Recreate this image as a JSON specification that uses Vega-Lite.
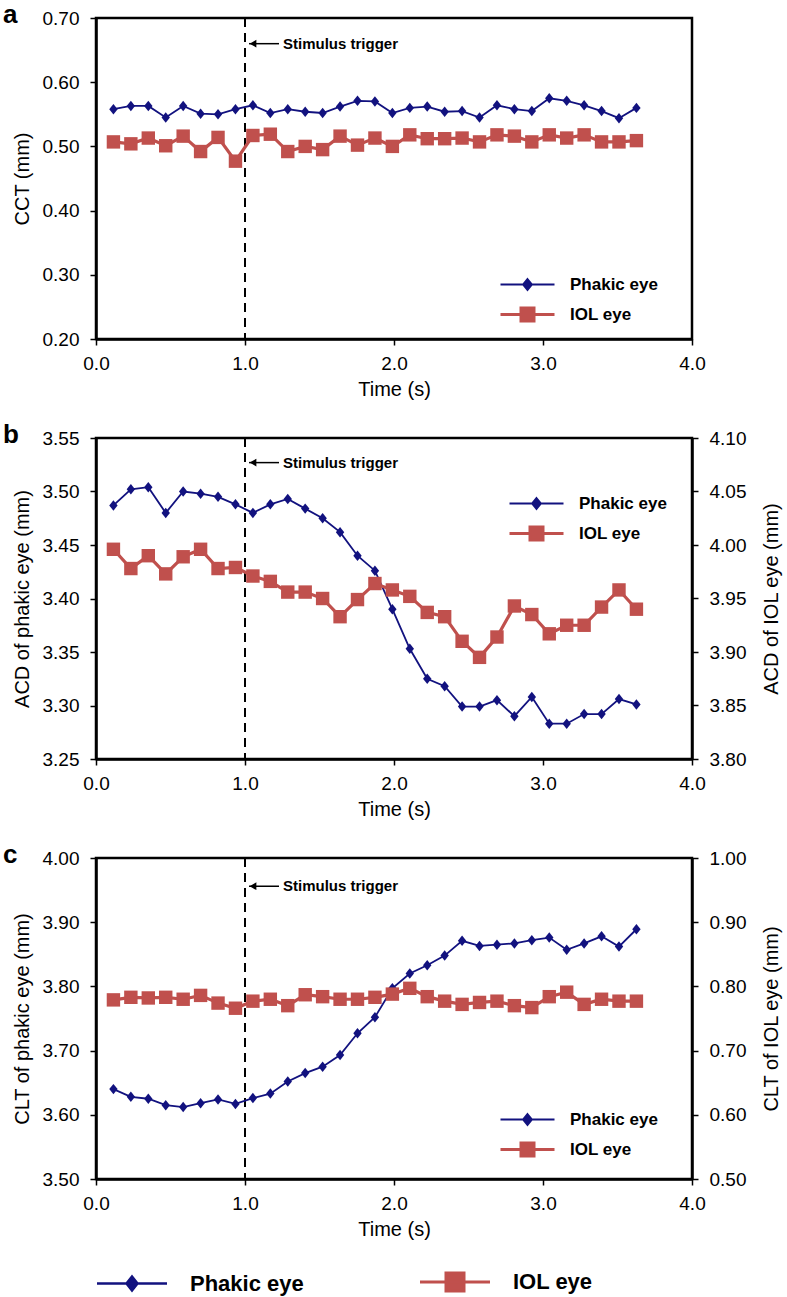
{
  "$schema": "https://vega.github.io/schema/vega-lite/v6.json",
  "background": "white",
  "padding": {"left": 1, "top": 0, "right": 0, "bottom": 0},
  "spacing": 19,
  "datasets": {
    "main": [
      {"panel":"a","eye":"Phakic eye","t":0.117,"v":0.558},{"panel":"a","eye":"Phakic eye","t":0.234,"v":0.563},{"panel":"a","eye":"Phakic eye","t":0.351,"v":0.563},{"panel":"a","eye":"Phakic eye","t":0.468,"v":0.545},{"panel":"a","eye":"Phakic eye","t":0.585,"v":0.563},{"panel":"a","eye":"Phakic eye","t":0.702,"v":0.551},{"panel":"a","eye":"Phakic eye","t":0.819,"v":0.550},{"panel":"a","eye":"Phakic eye","t":0.936,"v":0.558},{"panel":"a","eye":"Phakic eye","t":1.053,"v":0.564},{"panel":"a","eye":"Phakic eye","t":1.170,"v":0.552},{"panel":"a","eye":"Phakic eye","t":1.287,"v":0.558},{"panel":"a","eye":"Phakic eye","t":1.404,"v":0.554},{"panel":"a","eye":"Phakic eye","t":1.521,"v":0.552},{"panel":"a","eye":"Phakic eye","t":1.638,"v":0.562},{"panel":"a","eye":"Phakic eye","t":1.755,"v":0.571},{"panel":"a","eye":"Phakic eye","t":1.872,"v":0.570},{"panel":"a","eye":"Phakic eye","t":1.989,"v":0.552},{"panel":"a","eye":"Phakic eye","t":2.106,"v":0.560},{"panel":"a","eye":"Phakic eye","t":2.223,"v":0.562},{"panel":"a","eye":"Phakic eye","t":2.340,"v":0.554},{"panel":"a","eye":"Phakic eye","t":2.457,"v":0.555},{"panel":"a","eye":"Phakic eye","t":2.574,"v":0.545},{"panel":"a","eye":"Phakic eye","t":2.691,"v":0.564},{"panel":"a","eye":"Phakic eye","t":2.808,"v":0.558},{"panel":"a","eye":"Phakic eye","t":2.925,"v":0.555},{"panel":"a","eye":"Phakic eye","t":3.042,"v":0.575},{"panel":"a","eye":"Phakic eye","t":3.159,"v":0.571},{"panel":"a","eye":"Phakic eye","t":3.276,"v":0.564},{"panel":"a","eye":"Phakic eye","t":3.393,"v":0.555},{"panel":"a","eye":"Phakic eye","t":3.510,"v":0.544},{"panel":"a","eye":"Phakic eye","t":3.627,"v":0.560},
      {"panel":"a","eye":"IOL eye","t":0.117,"v":0.507},{"panel":"a","eye":"IOL eye","t":0.234,"v":0.504},{"panel":"a","eye":"IOL eye","t":0.351,"v":0.513},{"panel":"a","eye":"IOL eye","t":0.468,"v":0.501},{"panel":"a","eye":"IOL eye","t":0.585,"v":0.516},{"panel":"a","eye":"IOL eye","t":0.702,"v":0.492},{"panel":"a","eye":"IOL eye","t":0.819,"v":0.514},{"panel":"a","eye":"IOL eye","t":0.936,"v":0.477},{"panel":"a","eye":"IOL eye","t":1.053,"v":0.517},{"panel":"a","eye":"IOL eye","t":1.170,"v":0.519},{"panel":"a","eye":"IOL eye","t":1.287,"v":0.492},{"panel":"a","eye":"IOL eye","t":1.404,"v":0.500},{"panel":"a","eye":"IOL eye","t":1.521,"v":0.495},{"panel":"a","eye":"IOL eye","t":1.638,"v":0.516},{"panel":"a","eye":"IOL eye","t":1.755,"v":0.502},{"panel":"a","eye":"IOL eye","t":1.872,"v":0.513},{"panel":"a","eye":"IOL eye","t":1.989,"v":0.500},{"panel":"a","eye":"IOL eye","t":2.106,"v":0.518},{"panel":"a","eye":"IOL eye","t":2.223,"v":0.512},{"panel":"a","eye":"IOL eye","t":2.340,"v":0.512},{"panel":"a","eye":"IOL eye","t":2.457,"v":0.513},{"panel":"a","eye":"IOL eye","t":2.574,"v":0.507},{"panel":"a","eye":"IOL eye","t":2.691,"v":0.518},{"panel":"a","eye":"IOL eye","t":2.808,"v":0.516},{"panel":"a","eye":"IOL eye","t":2.925,"v":0.507},{"panel":"a","eye":"IOL eye","t":3.042,"v":0.518},{"panel":"a","eye":"IOL eye","t":3.159,"v":0.513},{"panel":"a","eye":"IOL eye","t":3.276,"v":0.518},{"panel":"a","eye":"IOL eye","t":3.393,"v":0.507},{"panel":"a","eye":"IOL eye","t":3.510,"v":0.507},{"panel":"a","eye":"IOL eye","t":3.627,"v":0.509},
      {"panel":"b","eye":"Phakic eye","t":0.117,"v":3.487},{"panel":"b","eye":"Phakic eye","t":0.234,"v":3.502},{"panel":"b","eye":"Phakic eye","t":0.351,"v":3.504},{"panel":"b","eye":"Phakic eye","t":0.468,"v":3.480},{"panel":"b","eye":"Phakic eye","t":0.585,"v":3.500},{"panel":"b","eye":"Phakic eye","t":0.702,"v":3.498},{"panel":"b","eye":"Phakic eye","t":0.819,"v":3.495},{"panel":"b","eye":"Phakic eye","t":0.936,"v":3.488},{"panel":"b","eye":"Phakic eye","t":1.053,"v":3.480},{"panel":"b","eye":"Phakic eye","t":1.170,"v":3.488},{"panel":"b","eye":"Phakic eye","t":1.287,"v":3.493},{"panel":"b","eye":"Phakic eye","t":1.404,"v":3.484},{"panel":"b","eye":"Phakic eye","t":1.521,"v":3.475},{"panel":"b","eye":"Phakic eye","t":1.638,"v":3.462},{"panel":"b","eye":"Phakic eye","t":1.755,"v":3.440},{"panel":"b","eye":"Phakic eye","t":1.872,"v":3.426},{"panel":"b","eye":"Phakic eye","t":1.989,"v":3.390},{"panel":"b","eye":"Phakic eye","t":2.106,"v":3.353},{"panel":"b","eye":"Phakic eye","t":2.223,"v":3.325},{"panel":"b","eye":"Phakic eye","t":2.340,"v":3.318},{"panel":"b","eye":"Phakic eye","t":2.457,"v":3.299},{"panel":"b","eye":"Phakic eye","t":2.574,"v":3.299},{"panel":"b","eye":"Phakic eye","t":2.691,"v":3.305},{"panel":"b","eye":"Phakic eye","t":2.808,"v":3.290},{"panel":"b","eye":"Phakic eye","t":2.925,"v":3.308},{"panel":"b","eye":"Phakic eye","t":3.042,"v":3.283},{"panel":"b","eye":"Phakic eye","t":3.159,"v":3.283},{"panel":"b","eye":"Phakic eye","t":3.276,"v":3.292},{"panel":"b","eye":"Phakic eye","t":3.393,"v":3.292},{"panel":"b","eye":"Phakic eye","t":3.510,"v":3.306},{"panel":"b","eye":"Phakic eye","t":3.627,"v":3.301},
      {"panel":"b","eye":"IOL eye","t":0.117,"v":3.996},{"panel":"b","eye":"IOL eye","t":0.234,"v":3.978},{"panel":"b","eye":"IOL eye","t":0.351,"v":3.990},{"panel":"b","eye":"IOL eye","t":0.468,"v":3.973},{"panel":"b","eye":"IOL eye","t":0.585,"v":3.989},{"panel":"b","eye":"IOL eye","t":0.702,"v":3.996},{"panel":"b","eye":"IOL eye","t":0.819,"v":3.978},{"panel":"b","eye":"IOL eye","t":0.936,"v":3.979},{"panel":"b","eye":"IOL eye","t":1.053,"v":3.971},{"panel":"b","eye":"IOL eye","t":1.170,"v":3.966},{"panel":"b","eye":"IOL eye","t":1.287,"v":3.956},{"panel":"b","eye":"IOL eye","t":1.404,"v":3.956},{"panel":"b","eye":"IOL eye","t":1.521,"v":3.950},{"panel":"b","eye":"IOL eye","t":1.638,"v":3.933},{"panel":"b","eye":"IOL eye","t":1.755,"v":3.949},{"panel":"b","eye":"IOL eye","t":1.872,"v":3.964},{"panel":"b","eye":"IOL eye","t":1.989,"v":3.958},{"panel":"b","eye":"IOL eye","t":2.106,"v":3.952},{"panel":"b","eye":"IOL eye","t":2.223,"v":3.937},{"panel":"b","eye":"IOL eye","t":2.340,"v":3.933},{"panel":"b","eye":"IOL eye","t":2.457,"v":3.910},{"panel":"b","eye":"IOL eye","t":2.574,"v":3.895},{"panel":"b","eye":"IOL eye","t":2.691,"v":3.914},{"panel":"b","eye":"IOL eye","t":2.808,"v":3.943},{"panel":"b","eye":"IOL eye","t":2.925,"v":3.935},{"panel":"b","eye":"IOL eye","t":3.042,"v":3.917},{"panel":"b","eye":"IOL eye","t":3.159,"v":3.925},{"panel":"b","eye":"IOL eye","t":3.276,"v":3.925},{"panel":"b","eye":"IOL eye","t":3.393,"v":3.942},{"panel":"b","eye":"IOL eye","t":3.510,"v":3.958},{"panel":"b","eye":"IOL eye","t":3.627,"v":3.940},
      {"panel":"c","eye":"Phakic eye","t":0.117,"v":3.640},{"panel":"c","eye":"Phakic eye","t":0.234,"v":3.628},{"panel":"c","eye":"Phakic eye","t":0.351,"v":3.625},{"panel":"c","eye":"Phakic eye","t":0.468,"v":3.615},{"panel":"c","eye":"Phakic eye","t":0.585,"v":3.612},{"panel":"c","eye":"Phakic eye","t":0.702,"v":3.618},{"panel":"c","eye":"Phakic eye","t":0.819,"v":3.624},{"panel":"c","eye":"Phakic eye","t":0.936,"v":3.617},{"panel":"c","eye":"Phakic eye","t":1.053,"v":3.626},{"panel":"c","eye":"Phakic eye","t":1.170,"v":3.633},{"panel":"c","eye":"Phakic eye","t":1.287,"v":3.652},{"panel":"c","eye":"Phakic eye","t":1.404,"v":3.665},{"panel":"c","eye":"Phakic eye","t":1.521,"v":3.675},{"panel":"c","eye":"Phakic eye","t":1.638,"v":3.693},{"panel":"c","eye":"Phakic eye","t":1.755,"v":3.727},{"panel":"c","eye":"Phakic eye","t":1.872,"v":3.752},{"panel":"c","eye":"Phakic eye","t":1.989,"v":3.797},{"panel":"c","eye":"Phakic eye","t":2.106,"v":3.820},{"panel":"c","eye":"Phakic eye","t":2.223,"v":3.833},{"panel":"c","eye":"Phakic eye","t":2.340,"v":3.848},{"panel":"c","eye":"Phakic eye","t":2.457,"v":3.871},{"panel":"c","eye":"Phakic eye","t":2.574,"v":3.863},{"panel":"c","eye":"Phakic eye","t":2.691,"v":3.865},{"panel":"c","eye":"Phakic eye","t":2.808,"v":3.867},{"panel":"c","eye":"Phakic eye","t":2.925,"v":3.872},{"panel":"c","eye":"Phakic eye","t":3.042,"v":3.876},{"panel":"c","eye":"Phakic eye","t":3.159,"v":3.857},{"panel":"c","eye":"Phakic eye","t":3.276,"v":3.867},{"panel":"c","eye":"Phakic eye","t":3.393,"v":3.878},{"panel":"c","eye":"Phakic eye","t":3.510,"v":3.862},{"panel":"c","eye":"Phakic eye","t":3.627,"v":3.889},
      {"panel":"c","eye":"IOL eye","t":0.117,"v":0.779},{"panel":"c","eye":"IOL eye","t":0.234,"v":0.783},{"panel":"c","eye":"IOL eye","t":0.351,"v":0.782},{"panel":"c","eye":"IOL eye","t":0.468,"v":0.783},{"panel":"c","eye":"IOL eye","t":0.585,"v":0.780},{"panel":"c","eye":"IOL eye","t":0.702,"v":0.786},{"panel":"c","eye":"IOL eye","t":0.819,"v":0.774},{"panel":"c","eye":"IOL eye","t":0.936,"v":0.766},{"panel":"c","eye":"IOL eye","t":1.053,"v":0.777},{"panel":"c","eye":"IOL eye","t":1.170,"v":0.780},{"panel":"c","eye":"IOL eye","t":1.287,"v":0.770},{"panel":"c","eye":"IOL eye","t":1.404,"v":0.787},{"panel":"c","eye":"IOL eye","t":1.521,"v":0.784},{"panel":"c","eye":"IOL eye","t":1.638,"v":0.780},{"panel":"c","eye":"IOL eye","t":1.755,"v":0.780},{"panel":"c","eye":"IOL eye","t":1.872,"v":0.783},{"panel":"c","eye":"IOL eye","t":1.989,"v":0.788},{"panel":"c","eye":"IOL eye","t":2.106,"v":0.797},{"panel":"c","eye":"IOL eye","t":2.223,"v":0.784},{"panel":"c","eye":"IOL eye","t":2.340,"v":0.777},{"panel":"c","eye":"IOL eye","t":2.457,"v":0.772},{"panel":"c","eye":"IOL eye","t":2.574,"v":0.775},{"panel":"c","eye":"IOL eye","t":2.691,"v":0.777},{"panel":"c","eye":"IOL eye","t":2.808,"v":0.770},{"panel":"c","eye":"IOL eye","t":2.925,"v":0.767},{"panel":"c","eye":"IOL eye","t":3.042,"v":0.784},{"panel":"c","eye":"IOL eye","t":3.159,"v":0.791},{"panel":"c","eye":"IOL eye","t":3.276,"v":0.772},{"panel":"c","eye":"IOL eye","t":3.393,"v":0.780},{"panel":"c","eye":"IOL eye","t":3.510,"v":0.777},{"panel":"c","eye":"IOL eye","t":3.627,"v":0.777}
    ],
    "ann": [
      {"panel":"a","t":1.0,"v":0.66,"label":"Stimulus trigger"},
      {"panel":"b","t":1.0,"v":3.527,"label":"Stimulus trigger"},
      {"panel":"c","t":1.0,"v":3.956,"label":"Stimulus trigger"}
    ]
  },
  "data": {"name": "main"},
  "resolve": {"scale": {"color": "independent"}, "legend": {"color": "independent"}},
  "vconcat": [
    {
      "width": 596, "height": 321,
      "title": {"text": "a", "anchor": "start", "frame": "group", "fontSize": 26, "fontWeight": "bold", "font": "Liberation Sans", "color": "black", "baseline": "middle", "offset": -32, "dx": -93},
      "layer": [
        {"data": {"name": "ann"}, "transform": [{"filter": "datum.panel === 'a'"}],
         "mark": {"type": "rule", "strokeDash": [9, 6], "strokeWidth": 2, "color": "black"},
         "encoding": {"x": {"field": "t", "type": "quantitative", "scale": {"domain": [0, 4], "nice": false}, "axis": {"values": [0, 1, 2, 3, 4], "format": ".1f", "title": "Time (s)"}}}},
        {"encoding": {
           "x": {"field": "t", "type": "quantitative", "scale": {"domain": [0, 4], "nice": false}, "axis": {"values": [0, 1, 2, 3, 4], "format": ".1f", "title": "Time (s)"}},
           "y": {"field": "v", "type": "quantitative", "scale": {"domain": [0.2, 0.7], "nice": false, "zero": false}, "axis": {"values": [0.2, 0.3, 0.4, 0.5, 0.6, 0.7], "format": ".2f", "title": "CCT (mm)"}}},
         "layer": [
           {"transform": [{"filter": "datum.panel === 'a' && datum.eye === 'Phakic eye'"}],
            "mark": {"type": "line", "strokeWidth": 1.8, "point": {"filled": true, "shape": "M0,-1L0.8,0L0,1L-0.8,0Z", "size": 110, "opacity": 1}},
            "encoding": {"color": {"field": "eye", "type": "nominal", "scale": {"domain": ["Phakic eye", "IOL eye"], "range": ["#12127f", "#c0504d"]},
              "legend": {"title": null, "orient": "none", "legendX": 406, "legendY": 258, "symbolSize": 400, "labelOffset": 51, "rowPadding": 8, "padding": 0,
                "labelFont": "Liberation Sans", "labelFontSize": 17, "labelFontWeight": "bold", "labelColor": "black",
                "encode": {"symbols": {"update": {
                  "shape": {"signal": "datum.value === 'Phakic eye' ? 'M-1,0H4.4M1.7,-0.55L2.15,0L1.7,0.55L1.25,0Z' : 'M-1,0H4.4M1.05,-0.65H2.35V0.65H1.05Z'"},
                  "fill": {"signal": "datum.value === 'Phakic eye' ? '#12127f' : '#c0504d'"},
                  "stroke": {"signal": "datum.value === 'Phakic eye' ? '#12127f' : '#c0504d'"},
                  "strokeWidth": {"signal": "datum.value === 'Phakic eye' ? 1.8 : 3"},
                  "opacity": {"value": 1}}}}}}}},
           {"transform": [{"filter": "datum.panel === 'a' && datum.eye === 'IOL eye'"}],
            "mark": {"type": "line", "strokeWidth": 3.2, "point": {"filled": true, "shape": "square", "size": 180, "opacity": 1}},
            "encoding": {"color": {"field": "eye", "type": "nominal", "scale": {"domain": ["Phakic eye", "IOL eye"], "range": ["#12127f", "#c0504d"]}}}},
           {"data": {"name": "ann"}, "transform": [{"filter": "datum.panel === 'a'"}],
            "mark": {"type": "rule", "xOffset": 4, "x2Offset": 34, "strokeWidth": 1.5, "color": "black"},
            "encoding": {"x2": {"field": "t"}}},
           {"data": {"name": "ann"}, "transform": [{"filter": "datum.panel === 'a'"}],
            "mark": {"type": "point", "shape": "triangle-left", "filled": true, "color": "black", "size": 60, "xOffset": 8, "opacity": 1}},
           {"data": {"name": "ann"}, "transform": [{"filter": "datum.panel === 'a'"}],
            "mark": {"type": "text", "align": "left", "baseline": "middle", "dx": 38, "font": "Liberation Sans", "fontSize": 15, "fontWeight": "bold", "color": "black"},
            "encoding": {"text": {"field": "label"}}}
         ]}
      ]
    },
    {
      "width": 596, "height": 321,
      "title": {"text": "b", "anchor": "start", "frame": "group", "fontSize": 26, "fontWeight": "bold", "font": "Liberation Sans", "color": "black", "baseline": "middle", "offset": -32, "dx": -93},
      "resolve": {"scale": {"y": "independent"}},
      "layer": [
        {"data": {"name": "ann"}, "transform": [{"filter": "datum.panel === 'b'"}],
         "mark": {"type": "rule", "strokeDash": [9, 6], "strokeWidth": 2, "color": "black"},
         "encoding": {"x": {"field": "t", "type": "quantitative", "scale": {"domain": [0, 4], "nice": false}, "axis": {"values": [0, 1, 2, 3, 4], "format": ".1f", "title": "Time (s)"}}}},
        {"encoding": {
           "x": {"field": "t", "type": "quantitative", "scale": {"domain": [0, 4], "nice": false}, "axis": {"values": [0, 1, 2, 3, 4], "format": ".1f", "title": "Time (s)"}},
           "y": {"field": "v", "type": "quantitative", "scale": {"domain": [3.25, 3.55], "nice": false, "zero": false}, "axis": {"values": [3.25, 3.3, 3.35, 3.4, 3.45, 3.5, 3.55], "format": ".2f", "title": "ACD of phakic eye (mm)"}}},
         "layer": [
           {"transform": [{"filter": "datum.panel === 'b' && datum.eye === 'Phakic eye'"}],
            "mark": {"type": "line", "strokeWidth": 1.8, "point": {"filled": true, "shape": "M0,-1L0.8,0L0,1L-0.8,0Z", "size": 110, "opacity": 1}},
            "encoding": {"color": {"field": "eye", "type": "nominal", "scale": {"domain": ["Phakic eye", "IOL eye"], "range": ["#12127f", "#c0504d"]},
              "legend": {"title": null, "orient": "none", "legendX": 415, "legendY": 57, "symbolSize": 400, "labelOffset": 51, "rowPadding": 8, "padding": 0,
                "labelFont": "Liberation Sans", "labelFontSize": 17, "labelFontWeight": "bold", "labelColor": "black",
                "encode": {"symbols": {"update": {
                  "shape": {"signal": "datum.value === 'Phakic eye' ? 'M-1,0H4.4M1.7,-0.55L2.15,0L1.7,0.55L1.25,0Z' : 'M-1,0H4.4M1.05,-0.65H2.35V0.65H1.05Z'"},
                  "fill": {"signal": "datum.value === 'Phakic eye' ? '#12127f' : '#c0504d'"},
                  "stroke": {"signal": "datum.value === 'Phakic eye' ? '#12127f' : '#c0504d'"},
                  "strokeWidth": {"signal": "datum.value === 'Phakic eye' ? 1.8 : 3"},
                  "opacity": {"value": 1}}}}}}}},
           {"data": {"name": "ann"}, "transform": [{"filter": "datum.panel === 'b'"}],
            "mark": {"type": "rule", "xOffset": 4, "x2Offset": 34, "strokeWidth": 1.5, "color": "black"},
            "encoding": {"x2": {"field": "t"}}},
           {"data": {"name": "ann"}, "transform": [{"filter": "datum.panel === 'b'"}],
            "mark": {"type": "point", "shape": "triangle-left", "filled": true, "color": "black", "size": 60, "xOffset": 8, "opacity": 1}},
           {"data": {"name": "ann"}, "transform": [{"filter": "datum.panel === 'b'"}],
            "mark": {"type": "text", "align": "left", "baseline": "middle", "dx": 38, "font": "Liberation Sans", "fontSize": 15, "fontWeight": "bold", "color": "black"},
            "encoding": {"text": {"field": "label"}}}
         ]},
        {"transform": [{"filter": "datum.panel === 'b' && datum.eye === 'IOL eye'"}],
         "mark": {"type": "line", "strokeWidth": 3.2, "point": {"filled": true, "shape": "square", "size": 180, "opacity": 1}},
         "encoding": {
           "x": {"field": "t", "type": "quantitative", "scale": {"domain": [0, 4], "nice": false}, "axis": {"values": [0, 1, 2, 3, 4], "format": ".1f", "title": "Time (s)"}},
           "y": {"field": "v", "type": "quantitative", "scale": {"domain": [3.8, 4.1], "nice": false, "zero": false}, "axis": {"orient": "right", "values": [3.8, 3.85, 3.9, 3.95, 4.0, 4.05, 4.1], "format": ".2f", "title": "ACD of IOL eye (mm)", "titleAngle": 270, "titlePadding": 36}},
           "color": {"field": "eye", "type": "nominal", "scale": {"domain": ["Phakic eye", "IOL eye"], "range": ["#12127f", "#c0504d"]}}}}
      ]
    },
    {
      "width": 596, "height": 321,
      "title": {"text": "c", "anchor": "start", "frame": "group", "fontSize": 26, "fontWeight": "bold", "font": "Liberation Sans", "color": "black", "baseline": "middle", "offset": -32, "dx": -93},
      "resolve": {"scale": {"y": "independent"}},
      "layer": [
        {"data": {"name": "ann"}, "transform": [{"filter": "datum.panel === 'c'"}],
         "mark": {"type": "rule", "strokeDash": [9, 6], "strokeWidth": 2, "color": "black"},
         "encoding": {"x": {"field": "t", "type": "quantitative", "scale": {"domain": [0, 4], "nice": false}, "axis": {"values": [0, 1, 2, 3, 4], "format": ".1f", "title": "Time (s)"}}}},
        {"encoding": {
           "x": {"field": "t", "type": "quantitative", "scale": {"domain": [0, 4], "nice": false}, "axis": {"values": [0, 1, 2, 3, 4], "format": ".1f", "title": "Time (s)"}},
           "y": {"field": "v", "type": "quantitative", "scale": {"domain": [3.5, 4.0], "nice": false, "zero": false}, "axis": {"values": [3.5, 3.6, 3.7, 3.8, 3.9, 4.0], "format": ".2f", "title": "CLT of phakic eye (mm)"}}},
         "layer": [
           {"transform": [{"filter": "datum.panel === 'c' && datum.eye === 'Phakic eye'"}],
            "mark": {"type": "line", "strokeWidth": 1.8, "point": {"filled": true, "shape": "M0,-1L0.8,0L0,1L-0.8,0Z", "size": 110, "opacity": 1}},
            "encoding": {"color": {"field": "eye", "type": "nominal", "scale": {"domain": ["Phakic eye", "IOL eye"], "range": ["#12127f", "#c0504d"]},
              "legend": {"title": null, "orient": "none", "legendX": 406, "legendY": 253, "symbolSize": 400, "labelOffset": 51, "rowPadding": 8, "padding": 0,
                "labelFont": "Liberation Sans", "labelFontSize": 17, "labelFontWeight": "bold", "labelColor": "black",
                "encode": {"symbols": {"update": {
                  "shape": {"signal": "datum.value === 'Phakic eye' ? 'M-1,0H4.4M1.7,-0.55L2.15,0L1.7,0.55L1.25,0Z' : 'M-1,0H4.4M1.05,-0.65H2.35V0.65H1.05Z'"},
                  "fill": {"signal": "datum.value === 'Phakic eye' ? '#12127f' : '#c0504d'"},
                  "stroke": {"signal": "datum.value === 'Phakic eye' ? '#12127f' : '#c0504d'"},
                  "strokeWidth": {"signal": "datum.value === 'Phakic eye' ? 1.8 : 3"},
                  "opacity": {"value": 1}}}}}}}},
           {"data": {"name": "ann"}, "transform": [{"filter": "datum.panel === 'c'"}],
            "mark": {"type": "rule", "xOffset": 4, "x2Offset": 34, "strokeWidth": 1.5, "color": "black"},
            "encoding": {"x2": {"field": "t"}}},
           {"data": {"name": "ann"}, "transform": [{"filter": "datum.panel === 'c'"}],
            "mark": {"type": "point", "shape": "triangle-left", "filled": true, "color": "black", "size": 60, "xOffset": 8, "opacity": 1}},
           {"data": {"name": "ann"}, "transform": [{"filter": "datum.panel === 'c'"}],
            "mark": {"type": "text", "align": "left", "baseline": "middle", "dx": 38, "font": "Liberation Sans", "fontSize": 15, "fontWeight": "bold", "color": "black"},
            "encoding": {"text": {"field": "label"}}}
         ]},
        {"transform": [{"filter": "datum.panel === 'c' && datum.eye === 'IOL eye'"}],
         "mark": {"type": "line", "strokeWidth": 3.2, "point": {"filled": true, "shape": "square", "size": 180, "opacity": 1}},
         "encoding": {
           "x": {"field": "t", "type": "quantitative", "scale": {"domain": [0, 4], "nice": false}, "axis": {"values": [0, 1, 2, 3, 4], "format": ".1f", "title": "Time (s)"}},
           "y": {"field": "v", "type": "quantitative", "scale": {"domain": [0.5, 1.0], "nice": false, "zero": false}, "axis": {"orient": "right", "values": [0.5, 0.6, 0.7, 0.8, 0.9, 1.0], "format": ".2f", "title": "CLT of IOL eye (mm)", "titleAngle": 270, "titlePadding": 36}},
           "color": {"field": "eye", "type": "nominal", "scale": {"domain": ["Phakic eye", "IOL eye"], "range": ["#12127f", "#c0504d"]}}}}
      ]
    },
    {
      "width": 596, "height": 1,
      "view": {"stroke": null},
      "data": {"values": [{"eye": "Phakic eye"}, {"eye": "IOL eye"}]},
      "mark": {"type": "line", "strokeOpacity": 0},
      "encoding": {"color": {"field": "eye", "type": "nominal", "scale": {"domain": ["Phakic eye", "IOL eye"], "range": ["#12127f", "#c0504d"]},
        "legend": {"title": null, "orient": "none", "legendX": 0, "legendY": 11, "direction": "horizontal", "columns": 2, "columnPadding": 110,
          "symbolSize": 400, "labelOffset": 72, "padding": 0,
          "labelFont": "Liberation Sans", "labelFontSize": 22, "labelFontWeight": "bold", "labelColor": "black",
          "encode": {"symbols": {"update": {
            "shape": {"signal": "datum.value === 'Phakic eye' ? 'M-1,0H6M2.5,-0.7L3.05,0L2.5,0.7L1.95,0Z' : 'M-1,0H6M1.6,-0.9H3.4V0.9H1.6Z'"},
            "fill": {"signal": "datum.value === 'Phakic eye' ? '#12127f' : '#c0504d'"},
            "stroke": {"signal": "datum.value === 'Phakic eye' ? '#12127f' : '#c0504d'"},
            "strokeWidth": {"signal": "datum.value === 'Phakic eye' ? 2.5 : 3"},
            "opacity": {"value": 1}, "strokeOpacity": {"value": 1}, "fillOpacity": {"value": 1}}}}}}}
    }
  ],
  "config": {
    "view": {"stroke": "black", "strokeWidth": 2.5},
    "axis": {
      "grid": false, "domainColor": "black", "domainWidth": 2.5, "tickColor": "black", "tickWidth": 1.5, "tickSize": 6,
      "labelFont": "Liberation Sans", "labelFontSize": 19, "labelColor": "black", "labelPadding": 11,
      "titleFont": "Liberation Sans", "titleFontSize": 20, "titleFontWeight": "normal", "titleColor": "black"
    },
    "axisX": {"labelPadding": 9, "titlePadding": 6, "labelFlush": false},
    "axisY": {"titlePadding": 10}
  }
}
